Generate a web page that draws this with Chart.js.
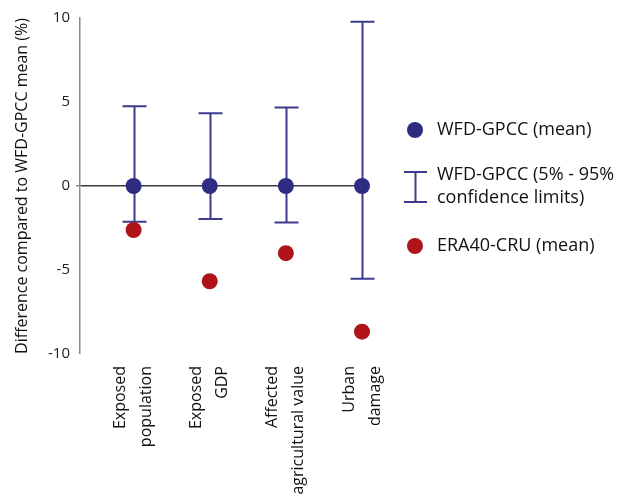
<!DOCTYPE html>
<html>
<head>
<meta charset="utf-8">
<script src="https://cdn.jsdelivr.net/npm/chart.js@4"></script>
<style>
  html, body { margin: 0; padding: 0; background: #fff; }
  #chart { display: block; }
</style>
</head>
<body>
<canvas id="chart" width="636" height="503"></canvas>
<script>
// categories and values
var categories = [['Exposed', 'population'], ['Exposed', 'GDP'], ['Affected', 'agricultural value'], ['Urban', 'damage']];
var wfd_mean = [0, 0, 0, 0];
var wfd_low = [-2.13, -1.96, -2.18, -5.52];
var wfd_high = [4.74, 4.33, 4.68, 9.78];
var era_mean = [-2.62, -5.67, -4.0, -8.67];
var y_ticks = [-10, -5, 0, 5, 10];

var legend_items = [
    { kind: 'dot', color: '#2f2d82', text: ['WFD-GPCC (mean)'] },
    { kind: 'bar', color: '#3c3b8e', text: ['WFD-GPCC (5% - 95%', 'confidence limits)'] },
    { kind: 'dot', color: '#b0141b', text: ['ERA40-CRU (mean)'] }
];

var FONT = '"Open Sans", "DejaVu Sans", sans-serif';

function toPoints(arr){
    var out = [];
    for(var i = 0; i < arr.length; i++){
        out.push({ x: i, y: arr[i] });
    }
    return out;
}

// error bars drawn behind the mean markers
var errorBars = {
    id: 'errorBars',
    beforeDatasetsDraw: function(chart){
        var ctx = chart.ctx;
        var xs = chart.scales.x, ys = chart.scales.y;
        ctx.save();
        ctx.strokeStyle = '#3c3b8e';
        ctx.lineWidth = 2;
        for(var i = 0; i < wfd_low.length; i++){
            var x = Math.round(xs.getPixelForValue(i)) + 0.5;
            var top = ys.getPixelForValue(wfd_high[i]);
            var bot = ys.getPixelForValue(wfd_low[i]);
            ctx.beginPath();
            ctx.moveTo(x, top); ctx.lineTo(x, bot);
            ctx.moveTo(x - 12, top); ctx.lineTo(x + 12, top);
            ctx.moveTo(x - 12, bot); ctx.lineTo(x + 12, bot);
            ctx.stroke();
        }
        ctx.restore();
    }
};

var sideLegend = {
    id: 'sideLegend',
    afterDraw: function(chart){
        var ctx = chart.ctx;
        var rows = [130, 187, 246];
        ctx.save();
        ctx.font = '18px ' + FONT;
        ctx.textBaseline = 'middle';
        for(var i = 0; i < legend_items.length; i++){
            var it = legend_items[i];
            var cy = rows[i];
            if(it.kind === 'dot'){
                ctx.beginPath();
                ctx.arc(415, cy, 8, 0, Math.PI * 2);
                ctx.fillStyle = it.color;
                ctx.fill();
            } else {
                ctx.strokeStyle = it.color;
                ctx.lineWidth = 2;
                ctx.beginPath();
                ctx.moveTo(415.5, cy - 15); ctx.lineTo(415.5, cy + 15);
                ctx.moveTo(404, cy - 15); ctx.lineTo(427, cy - 15);
                ctx.moveTo(404, cy + 15); ctx.lineTo(427, cy + 15);
                ctx.stroke();
            }
            ctx.fillStyle = '#111';
            if(it.text.length === 1){
                ctx.fillText(it.text[0], 437, cy);
            } else {
                ctx.fillText(it.text[0], 437, cy - 12);
                ctx.fillText(it.text[1], 437, cy + 11);
            }
        }
        ctx.restore();
    }
};

const data = {
    datasets: [{
        label: 'WFD-GPCC (mean)',
        data: toPoints(wfd_mean),
        pointRadius: 8,
        pointBackgroundColor: '#2f2d82',
        pointBorderWidth: 0,
        showLine: false,
        clip: false
    },{
        label: 'ERA40-CRU (mean)',
        data: toPoints(era_mean),
        pointRadius: 8,
        pointBackgroundColor: '#b0141b',
        pointBorderWidth: 0,
        showLine: false,
        clip: false
    }]
};

const config = {
    type: 'scatter',
    data,
    options: {
        responsive: false,
        animation: false,
        devicePixelRatio: 1,
        layout: { padding: { top: 18, right: 274, left: 0, bottom: 0 } },
        plugins: {
            legend: { display: false },
            tooltip: { enabled: false }
        },
        scales: {
            x: {
                type: 'linear',
                min: -0.704,
                max: 3,
                border: { display: false },
                grid: { display: false, drawTicks: false },
                afterBuildTicks: function(scale){
                    scale.ticks = categories.map(function(c, i){ return { value: i }; });
                },
                afterFit: function(scale){ scale.height = 149; },
                ticks: {
                    autoSkip: false,
                    minRotation: 90,
                    maxRotation: 90,
                    padding: 12,
                    labelOffset: -13,
                    color: '#111',
                    font: { family: FONT, size: 16, lineHeight: 1.625 },
                    callback: function(v){ return categories[v]; }
                }
            },
            y: {
                min: -10,
                max: 10,
                afterBuildTicks: function(scale){
                    scale.ticks = y_ticks.map(function(v){ return { value: v }; });
                },
                afterFit: function(scale){ scale.width = 80; },
                border: { display: true, color: '#8a8a8a', width: 1.5 },
                grid: {
                    drawTicks: true,
                    tickLength: 4,
                    tickColor: '#8a8a8a',
                    lineWidth: function(c){ return c.tick && c.tick.value === 0 ? 1.5 : 0; },
                    color: function(c){ return c.tick && c.tick.value === 0 ? '#3a3a3a' : 'rgba(0,0,0,0)'; }
                },
                ticks: {
                    padding: 6,
                    color: '#222',
                    font: { family: FONT, size: 15 }
                },
                title: {
                    display: true,
                    text: 'Difference compared to WFD-GPCC mean (%)',
                    color: '#111',
                    padding: { top: 13, bottom: 0 },
                    font: { family: FONT, size: 16 }
                }
            }
        }
    },
    plugins: [errorBars, sideLegend]
};

const ctx = document.getElementById('chart').getContext('2d');
const myChart = new Chart(ctx, config);
</script>
</body>
</html>
